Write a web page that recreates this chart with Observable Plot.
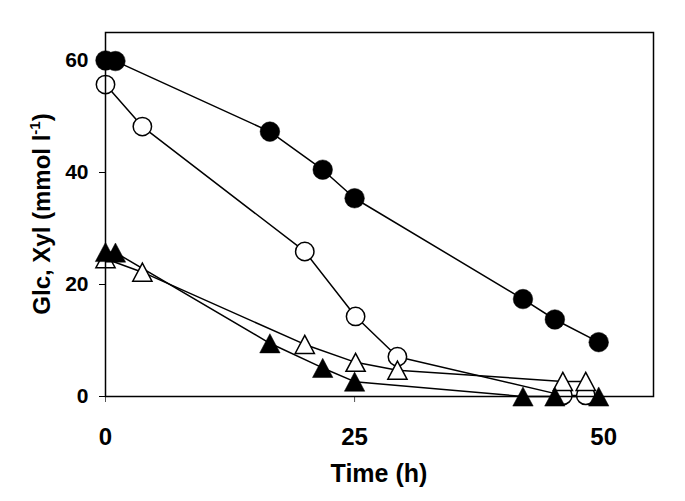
<!DOCTYPE html>
<html>
<head>
<meta charset="utf-8">
<script src="https://cdn.jsdelivr.net/npm/d3@7"></script>
<script src="https://cdn.jsdelivr.net/npm/@observablehq/plot@0.6"></script>
<style>
  html, body { margin: 0; padding: 0; background: #fff; }
  #chart svg { font-family: "Liberation Sans", Arial, sans-serif; font-weight: bold; }
</style>
</head>
<body>
<div id="chart"></div>
<script>
// Time points (h)
const timeFilled = [0, 1.0, 16.5, 21.8, 25.0, 41.9, 45.1, 49.5];
const timeOpen = [0, 3.7, 20.0, 25.1, 29.3, 45.9, 48.2];
// Glucose / xylose concentrations (mmol l-1)
const glcFilled = [60, 59.9, 47.3, 40.5, 35.4, 17.4, 13.75, 9.7];
const xylFilled = [25.8, 25.7, 9.5, 5.1, 2.65, 0, 0, 0];
const glcOpen = [55.7, 48.2, 25.9, 14.3, 7.1, 0.2, 0.2];
const xylOpen = [24.6, 22.2, 9.3, 6.1, 4.7, 2.7, 2.7];
// Axis ticks
const xTicks = [0, 25, 50];
const yTicks = [0, 20, 40, 60];
const xTitle = "Time (h)";
const yTitleMain = "Glc, Xyl (mmol l";
const yTitleSup = "-1";
const yTitleEnd = ")";

const pts = (t, v) => t.map((x, i) => ({x, y: v[i]}));
const sFilledCircle = pts(timeFilled, glcFilled);
const sFilledTri = pts(timeFilled, xylFilled);
const sOpenCircle = pts(timeOpen, glcOpen);
const sOpenTri = pts(timeOpen, xylOpen);

// triangle centred on its bounding box
const tri = {
  draw(ctx, size) {
    const r = Math.sqrt(size / Math.PI);
    ctx.moveTo(0, -0.94 * r);
    ctx.lineTo(r, 0.94 * r);
    ctx.lineTo(-r, 0.94 * r);
    ctx.closePath();
  }
};

const line = (d) => Plot.line(d, {x: "x", y: "y", stroke: "black", strokeWidth: 1.5});

const chart = Plot.plot({
  width: 685,
  height: 501,
  marginLeft: 105,
  marginRight: 32,
  marginTop: 32,
  marginBottom: 105,
  x: {domain: [0, 55]},
  y: {domain: [0, 65]},
  marks: [
    Plot.axisX({ticks: xTicks, tickSize: 6, tickPadding: 25, fontSize: 24, label: null, stroke: "#555"}),
    Plot.axisY({ticks: yTicks, tickSize: 6, tickPadding: 11, fontSize: 21, label: null}),
    line(sFilledCircle),
    line(sOpenCircle),
    line(sOpenTri),
    line(sFilledTri),
    Plot.dot(sFilledCircle, {x: "x", y: "y", r: 9.8, fill: "black", stroke: "black", strokeWidth: 0.5}),
    Plot.dot(sOpenCircle, {x: "x", y: "y", r: 9.2, fill: "white", stroke: "black", strokeWidth: 1.5}),
    Plot.dot(sOpenTri, {x: "x", y: "y", r: 9.6, symbol: tri, fill: "white", stroke: "black", strokeWidth: 1.5}),
    Plot.dot(sFilledTri, {x: "x", y: "y", r: 10.2, symbol: tri, fill: "black", stroke: "black", strokeWidth: 0.5}),
    Plot.frame({stroke: "black", strokeWidth: 1.5})
  ]
});

document.getElementById("chart").appendChild(chart);

const svg = d3.select(chart);
svg.append("text")
  .attr("x", 379)
  .attr("y", 482)
  .attr("text-anchor", "middle")
  .attr("font-size", 25)
  .attr("font-weight", "bold")
  .attr("fill", "black")
  .text(xTitle);

const yt = svg.append("text")
  .attr("transform", "translate(50,214) rotate(-90)")
  .attr("text-anchor", "middle")
  .attr("font-size", 24)
  .attr("font-weight", "bold")
  .attr("fill", "black");
yt.append("tspan").text(yTitleMain);
yt.append("tspan").attr("font-size", 15).attr("dy", "-0.7em").text(yTitleSup);
yt.append("tspan").attr("dy", "0.45em").text(yTitleEnd);
</script>
</body>
</html>
